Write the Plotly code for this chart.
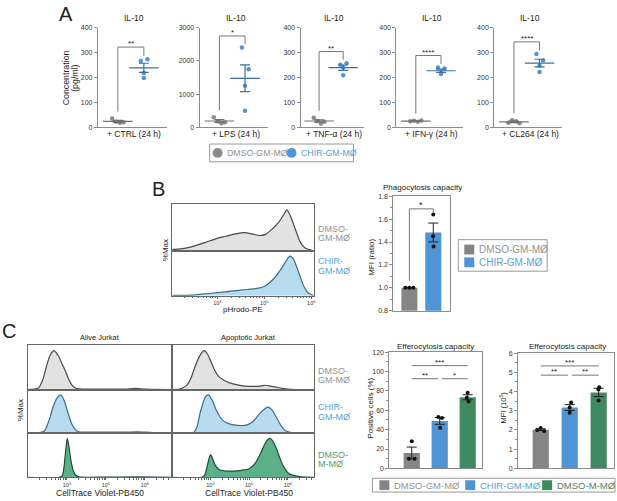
import numpy as np
import plotly.graph_objects as go

# --------------------
# Data
# --------------------
# Panel A: IL-10 (pg/ml), four donors per group
a_conditions = ["+ CTRL (24 h)", "+ LPS (24 h)", "+ TNF-α (24 h)", "+ IFN-γ (24 h)", "+ CL264 (24 h)"]
a_dmso = [[35, 22, 18, 20], [300, 180, 120, 150], [38, 25, 15, 22], [24, 26, 22, 27], [18, 28, 24, 16]]
a_chir = [[266, 273, 218, 198], [2400, 1750, 1250, 500], [251, 257, 240, 209], [240, 236, 218, 214], [294, 268, 247, 222]]
a_ymax = [400, 3000, 400, 400, 400]
a_dtick = [100, 1000, 100, 100, 100]
a_stars = ["**", "*", "**", "****", "****"]
a_bracket_top = [322, 2750, 304, 288, 343]

# Panel B: pHrodo-PE histograms (log10 intensity, %Max)
b_dmso_log = [3.05, 3.33, 3.54, 3.75, 4.0, 4.18, 4.39, 4.57, 4.74, 4.88, 5.02, 5.17, 5.31, 5.41, 5.48, 5.55, 5.66, 5.77, 5.87, 6.01]
b_dmso_pct = [2, 6, 12, 20, 30, 35, 41, 44, 41, 37, 39, 53, 70, 87, 100, 87, 53, 20, 6, 1]
b_chir_log = [3.05, 3.47, 3.82, 4.18, 4.53, 4.81, 5.02, 5.2, 5.34, 5.45, 5.55, 5.62, 5.73, 5.84, 5.94, 6.05]
b_chir_pct = [1, 2, 6, 10, 15, 18, 25, 43, 64, 85, 100, 93, 60, 25, 7, 1]
# Panel B: phagocytosis MFI ratio
b_mfi = [[1.0, 1.0, 1.0], [1.64, 1.45, 1.36]]

# Panel C: CellTrace Violet histograms (log10 intensity, %Max)
c_alive_dmso_log = [3.0, 3.2, 3.28, 3.38, 3.45, 3.52, 3.58, 3.67, 3.79, 3.88, 3.97, 4.05, 4.14, 4.22, 4.31, 4.6, 5.0, 5.5, 5.77, 6.0, 6.69]
c_alive_dmso_pct = [0, 2, 5, 25, 50, 75, 90, 100, 85, 65, 45, 25, 10, 4, 2, 1, 1, 1, 3, 1, 0]
c_alive_chir_log = [3.0, 3.3, 3.42, 3.55, 3.65, 3.75, 3.84, 3.93, 4.02, 4.12, 4.22, 4.31, 4.6, 5.0, 5.5, 5.8, 6.2, 6.69]
c_alive_chir_pct = [0, 1, 5, 35, 70, 92, 100, 85, 55, 25, 8, 3, 2, 2, 2, 3, 1, 0]
c_alive_m_log = [3.0, 3.8, 3.88, 3.93, 3.97, 4.01, 4.05, 4.1, 4.16, 4.22, 4.31, 5.0, 5.8, 6.69]
c_alive_m_pct = [0, 0, 4, 30, 70, 100, 80, 45, 18, 6, 1, 0.5, 1, 0]
c_apo_dmso_log = [3.0, 3.2, 3.3, 3.4, 3.5, 3.6, 3.7, 3.78, 3.84, 3.92, 4.0, 4.1, 4.2, 4.35, 4.5, 4.7, 4.9, 5.1, 5.3, 5.43, 5.55, 5.7, 5.85, 6.0, 6.2, 6.69]
c_apo_dmso_pct = [0, 1, 5, 12, 30, 58, 82, 95, 100, 92, 75, 52, 35, 24, 17, 12, 9, 8, 9, 11, 9, 6, 3, 1, 0, 0]
c_apo_chir_log = [3.0, 3.57, 3.65, 3.74, 3.87, 3.95, 4.05, 4.15, 4.3, 4.45, 4.6, 4.8, 4.95, 5.1, 5.25, 5.4, 5.48, 5.58, 5.7, 5.82, 5.95, 6.1, 6.69]
c_apo_chir_pct = [0, 2, 15, 55, 95, 100, 85, 60, 35, 25, 21, 19, 21, 30, 48, 63, 68, 62, 42, 20, 5, 1, 0]
c_apo_m_log = [3.0, 3.78, 3.85, 3.92, 3.97, 4.0, 4.05, 4.12, 4.22, 4.4, 4.6, 4.8, 5.0, 5.15, 5.3, 5.42, 5.52, 5.6, 5.7, 5.8, 5.9, 6.0, 6.08, 6.3, 6.69]
c_apo_m_pct = [0, 0, 5, 30, 50, 58, 50, 32, 20, 16, 16, 18, 22, 35, 62, 88, 100, 95, 75, 48, 26, 12, 7, 2, 0]
# Panel C: efferocytosis
c_positive = [[28, 10, 10], [53, 52, 42], [78, 73, 69]]
c_mfi = [[2.1, 2.0, 1.95], [3.43, 3.17, 2.9], [4.22, 4.11, 3.53]]
c_pos_brackets = [(0, 2, 106, "***"), (0, 0.94, 92.5, "**"), (1.08, 2, 92.5, "*")]
c_mfi_brackets = [(0, 2, 5.33, "***"), (0, 0.94, 4.85, "**"), (1.08, 2, 4.85, "**")]

# --------------------
# Styles
# --------------------
W, H = 617, 501
FONT = "Liberation Sans, Arial, sans-serif"
INK = "#222222"
AXC = "#8c8c8c"
FRAME = "#666666"
GRAY_PT, BLUE_PT = "#8c8c8c", "#4e95d9"
GRAY_BAR, BLUE_BAR, GREEN_BAR = "#858585", "#4f94d4", "#3f8a63"
GRAY_TXT, BLUE_TXT, GREEN_TXT = "#939393", "#5a9fd6", "#4a9e78"
HIST = {
    "gray": ("#4a4a4a", "#e2e2e2"),
    "blue": ("#3b6f8a", "#b7dcef"),
    "green": ("#1e4d36", "#5cb088"),
}
a_dmso_dx = [-0.22, -0.07, 0.08, 0.22]
a_chir_dx = [-0.12, 0.14, 0.0, 0.0]
b_dx = [[-0.17, 0.0, 0.17], [0.0, -0.01, 0.01]]
c_pos_dx = [[0.0, -0.1, 0.1], [-0.05, 0.08, 0.02], [0.0, -0.03, 0.03]]
c_mfi_dx = [[0.0, -0.12, 0.12], [0.05, 0.0, 0.0], [0.02, -0.01, 0.0]]

fig = go.Figure()
layout = {}
annotations = []
shapes = []


def X(p):
    return p / W


def Y(p):
    return 1 - p / H


def refs(i):
    return ("x", "y") if i == 1 else (f"x{i}", f"y{i}")


def add_axes(i, xdom, ydom, xkw, ykw):
    xn = "xaxis" if i == 1 else f"xaxis{i}"
    yn = "yaxis" if i == 1 else f"yaxis{i}"
    xr, yr = refs(i)
    layout[xn] = dict(domain=[X(xdom[0]), X(xdom[1])], anchor=yr, showgrid=False, zeroline=False, **xkw)
    layout[yn] = dict(domain=[Y(ydom[1]), Y(ydom[0])], anchor=xr, showgrid=False, zeroline=False, **ykw)


def text(x, y, s, size=8.5, color=INK, xanchor="center", yanchor="middle", angle=0):
    annotations.append(dict(x=X(x), y=Y(y), xref="paper", yref="paper", text=s, showarrow=False,
                            font=dict(size=size, color=color, family=FONT),
                            xanchor=xanchor, yanchor=yanchor, textangle=angle))


def mean_sem(v):
    v = np.asarray(v, dtype=float)
    return v.mean(), v.std(ddof=1) / np.sqrt(len(v))


# --------------------
# Panel A
# --------------------
a_xdom = [(98, 167), (200, 268), (301, 365), (397, 464), (495, 563)]
for k in range(5):
    i = k + 1
    xr, yr = refs(i)
    add_axes(i, a_xdom[k], (24, 125),
             dict(range=[-0.77, 1.88], showline=True, linecolor=AXC, linewidth=1,
                  showticklabels=False, ticks=""),
             dict(range=[0, a_ymax[k]], dtick=a_dtick[k], showline=True, linecolor=AXC, linewidth=1,
                  ticks="outside", ticklen=3, tickcolor=AXC, tickfont=dict(size=7, color="#333")))
    for g, (vals, dx, col, mcol) in enumerate([(a_dmso[k], a_dmso_dx, GRAY_PT, "#707070"),
                                               (a_chir[k], a_chir_dx, BLUE_PT, "#3f6f9a")]):
        m, s = mean_sem(vals)
        fig.add_trace(go.Scatter(x=[g + d for d in dx], y=vals, mode="markers", xaxis=xr, yaxis=yr,
                                 marker=dict(color=col, size=4.5), hoverinfo="skip"))
        fig.add_trace(go.Scatter(x=[g], y=[m], mode="markers", xaxis=xr, yaxis=yr,
                                 marker=dict(symbol="line-ew", size=21, line=dict(color=mcol, width=1.2)),
                                 error_y=dict(type="data", array=[s], color=mcol, thickness=1.2, width=5),
                                 hoverinfo="skip"))
    pad = a_ymax[k] * 0.07
    top = a_bracket_top[k]
    shapes.append(dict(type="path", xref=xr, yref=yr,
                       path=f"M 0 {max(a_dmso[k]) + pad} L 0 {top} L 1 {top} L 1 {max(a_chir[k]) + pad * 0.5}",
                       line=dict(color="#777", width=1)))
    annotations.append(dict(x=0.5, y=top, xref=xr, yref=yr, text=a_stars[k], showarrow=False,
                            font=dict(size=8, color=INK, family=FONT), yanchor="bottom", yshift=-3))
    cx = (a_xdom[k][0] + a_xdom[k][1]) / 2 + 2
    text(cx, 14, "IL-10", 8.5)
    text(cx, 132, a_conditions[k], 8.5)

text(66.5, 75, "Concentration", 8.8, angle=-90)
text(75, 75, "(pg/ml)", 8.8, angle=-90)
text(66, 10, "A", 20)

# Panel A legend
shapes.append(dict(type="rect", xref="paper", yref="paper", x0=X(210), x1=X(354), y0=Y(160), y1=Y(142),
                   line=dict(color="#999", width=1)))
shapes.append(dict(type="circle", xref="paper", yref="paper", x0=X(213), x1=X(223), y0=Y(156), y1=Y(146),
                   fillcolor=GRAY_PT, line_width=0))
shapes.append(dict(type="circle", xref="paper", yref="paper", x0=X(287), x1=X(297), y0=Y(156), y1=Y(146),
                   fillcolor=BLUE_PT, line_width=0))
text(225, 151, "DMSO-GM-MØ", 8.8, GRAY_TXT, xanchor="left")
text(299, 151, "CHIR-GM-MØ", 8.8, BLUE_TXT, xanchor="left")


# --------------------
# Histogram helper
# --------------------
def minor_vals(lo, hi):
    return [m * 10 ** e for e in range(2, 8) for m in range(2, 10) if lo <= np.log10(m * 10 ** e) <= hi]


def hist_axes(i, xdom, ydom, xrange, show_ticks):
    xkw = dict(type="log", range=xrange, showline=True, mirror=True, linecolor=FRAME, linewidth=1)
    if show_ticks:
        xkw.update(tickvals=[1e4, 1e5, 1e6], ticktext=["10<sup>4</sup>", "10<sup>5</sup>", "10<sup>6</sup>"],
                   ticks="outside", ticklen=2, tickcolor=FRAME, tickfont=dict(size=5.5, color="#333"),
                   minor=dict(tickvals=minor_vals(*xrange), ticks="outside", ticklen=1.5, tickcolor=FRAME))
    else:
        xkw.update(showticklabels=False, ticks="")
    add_axes(i, xdom, ydom, xkw,
             dict(range=[0, 114], showline=True, mirror=True, linecolor=FRAME, linewidth=1,
                  showticklabels=False, ticks=""))


def add_hist(i, logs, pct, style):
    xr, yr = refs(i)
    line, fill = HIST[style]
    fig.add_trace(go.Scatter(x=[10 ** v for v in logs], y=pct, xaxis=xr, yaxis=yr, mode="lines",
                             line=dict(color=line, width=1.2, shape="spline", smoothing=0.7),
                             fill="tozeroy", fillcolor=fill, hoverinfo="skip"))


# --------------------
# Panel B
# --------------------
hist_axes(6, (172, 315), (203, 250), [3.03, 6.07], False)
hist_axes(7, (172, 315), (250, 296), [3.03, 6.07], True)
add_hist(6, b_dmso_log, b_dmso_pct, "gray")
add_hist(7, b_chir_log, b_chir_pct, "blue")
text(159, 188, "B", 20)
text(166, 250, "%Max", 8, angle=-90)
text(243, 310, "pHrodo-PE", 8)
text(317, 228, "DMSO-", 9, GRAY_TXT, xanchor="left")
text(317, 237.5, "GM-MØ", 9, GRAY_TXT, xanchor="left")
text(317, 261, "CHIR-", 9, BLUE_TXT, xanchor="left")
text(317, 270.5, "GM-MØ", 9, BLUE_TXT, xanchor="left")


def bar_chart(i, xdom, ydom, groups, colors, dxs, yrange, dtick, minor, fmt, width):
    xr, yr = refs(i)
    add_axes(i, xdom, ydom,
             dict(range=[xdom_range[i][0], xdom_range[i][1]], showline=True, mirror=True, linecolor=AXC,
                  linewidth=1, showticklabels=False, ticks=""),
             dict(range=yrange, dtick=dtick, tickformat=fmt, showline=True, mirror=True, linecolor=AXC,
                  linewidth=1, ticks="outside", ticklen=3, tickcolor=AXC,
                  tickfont=dict(size=7, color="#333"),
                  minor=dict(dtick=minor, ticks="outside", ticklen=2, tickcolor=AXC)))
    for g, (vals, col, dx) in enumerate(zip(groups, colors, dxs)):
        m, s = mean_sem(vals)
        fig.add_trace(go.Bar(x=[g], y=[m], width=width, xaxis=xr, yaxis=yr,
                             marker=dict(color=col, line_width=0),
                             error_y=dict(type="data", array=[s], color=INK, thickness=1, width=5),
                             hoverinfo="skip"))
        fig.add_trace(go.Scatter(x=[g + d for d in dx], y=vals, mode="markers", xaxis=xr, yaxis=yr,
                                 marker=dict(color="#111", size=4), hoverinfo="skip"))


xdom_range = {8: (-0.67, 1.71), 15: (-0.8, 2.52), 16: (-0.78, 2.53)}

bar_chart(8, (394, 451), (195, 311), b_mfi, [GRAY_BAR, BLUE_BAR], b_dx, [0.8, 1.8], 0.2, 0.1, ".1f", 0.67)
shapes.append(dict(type="path", xref="x8", yref="y8", path="M 0 1.06 L 0 1.69 L 1 1.69 L 1 1.66",
                   line=dict(color="#777", width=1)))
annotations.append(dict(x=0.5, y=1.69, xref="x8", yref="y8", text="*", showarrow=False,
                        font=dict(size=9, color=INK, family=FONT), yanchor="bottom", yshift=-3))
text(423, 186, "Phagocytosis capacity", 8)
text(372, 257, "MFI (ratio)", 8, angle=-90)

shapes.append(dict(type="rect", xref="paper", yref="paper", x0=X(459), x1=X(548), y0=Y(271), y1=Y(239),
                   line=dict(color="#999", width=1)))
shapes.append(dict(type="rect", xref="paper", yref="paper", x0=X(465), x1=X(475), y0=Y(254), y1=Y(244),
                   fillcolor=GRAY_BAR, line_width=0))
shapes.append(dict(type="rect", xref="paper", yref="paper", x0=X(465), x1=X(475), y0=Y(267), y1=Y(257),
                   fillcolor=BLUE_BAR, line_width=0))
text(478, 249, "DMSO-GM-MØ", 10, GRAY_TXT, xanchor="left")
text(478, 262, "CHIR-GM-MØ", 10, BLUE_TXT, xanchor="left")

# --------------------
# Panel C
# --------------------
rows = [(346, 391), (391, 435), (435, 480)]
c_hists = [
    [(c_alive_dmso_log, c_alive_dmso_pct, "gray"), (c_alive_chir_log, c_alive_chir_pct, "blue"),
     (c_alive_m_log, c_alive_m_pct, "green")],
    [(c_apo_dmso_log, c_apo_dmso_pct, "gray"), (c_apo_chir_log, c_apo_chir_pct, "blue"),
     (c_apo_m_log, c_apo_m_pct, "green")],
]
cols = [(28, 172), (172, 315)]
for c in range(2):
    for r in range(3):
        i = 9 + c * 3 + r
        hist_axes(i, cols[c], rows[r], [3.0, 6.69], r == 2)
        logs, pct, style = c_hists[c][r]
        add_hist(i, logs, pct, style)

text(9, 332, "C", 20)
text(100, 338, "Alive Jurkat", 7.5)
text(249, 338, "Apoptotic Jurkat", 7.5)
text(100, 496, "CellTrace Violet-PB450", 8.5)
text(249, 496, "CellTrace Violet-PB450", 8.5)
text(20, 412, "%Max", 8, angle=-90)
for y0, l1, l2, col in [(372, "DMSO-", "GM-MØ", GRAY_TXT), (409, "CHIR-", "GM-MØ", BLUE_TXT),
                        (457, "DMSO-", "M-MØ", GREEN_TXT)]:
    text(317, y0, l1, 9, col, xanchor="left")
    text(317, y0 + 9.5, l2, 9, col, xanchor="left")

bar_chart(15, (390, 483), (353, 471), c_positive, [GRAY_BAR, BLUE_BAR, GREEN_BAR], c_pos_dx,
          [0, 120], 20, 10, "d", 0.58)
bar_chart(16, (519, 615), (354, 471), c_mfi, [GRAY_BAR, BLUE_BAR, GREEN_BAR], c_mfi_dx,
          [0, 6], 1, 0.5, "d", 0.56)
for i, brs in [(15, c_pos_brackets), (16, c_mfi_brackets)]:
    for x0, x1, yv, st in brs:
        shapes.append(dict(type="line", xref=f"x{i}", yref=f"y{i}", x0=x0, x1=x1, y0=yv, y1=yv,
                           line=dict(color="#777", width=1)))
        annotations.append(dict(x=(x0 + x1) / 2, y=yv, xref=f"x{i}", yref=f"y{i}", text=st, showarrow=False,
                                font=dict(size=8, color=INK, family=FONT), yanchor="bottom", yshift=-3))
text(436, 347, "Efferocytosis capacity", 8)
text(568, 347, "Efferocytosis capacity", 8)
text(371, 410, "Positive cells (%)", 8, angle=-90)
text(504, 409, "MFI (10<sup>5</sup>)", 7.5, angle=-90)

shapes.append(dict(type="rect", xref="paper", yref="paper", x0=X(373), x1=X(616), y0=Y(495), y1=Y(481),
                   line=dict(color="#999", width=1)))
for x0, col, lab, tcol in [(380, GRAY_BAR, "DMSO-GM-MØ", GRAY_TXT), (466, BLUE_BAR, "CHIR-GM-MØ", BLUE_TXT),
                           (543, GREEN_BAR, "DMSO-M-MØ", "#4f7f66")]:
    shapes.append(dict(type="rect", xref="paper", yref="paper", x0=X(x0), x1=X(x0 + 10), y0=Y(493), y1=Y(483),
                       fillcolor=col, line_width=0))
    text(x0 + 12.5, 488, lab, 9.5, tcol, xanchor="left")

layout.update(
    width=W, height=H, margin=dict(l=0, r=0, t=0, b=0),
    paper_bgcolor="white", plot_bgcolor="rgba(0,0,0,0)",
    showlegend=False, barmode="overlay", hovermode=False,
    font=dict(family=FONT, color=INK),
    annotations=annotations, shapes=shapes,
)
fig.update_layout(**layout)

# the page body has a default 8px margin; drop it so the figure fills the window
fig.write_html("out.html", config={"displayModeBar": False},
               post_script="document.body.style.margin='0';")
